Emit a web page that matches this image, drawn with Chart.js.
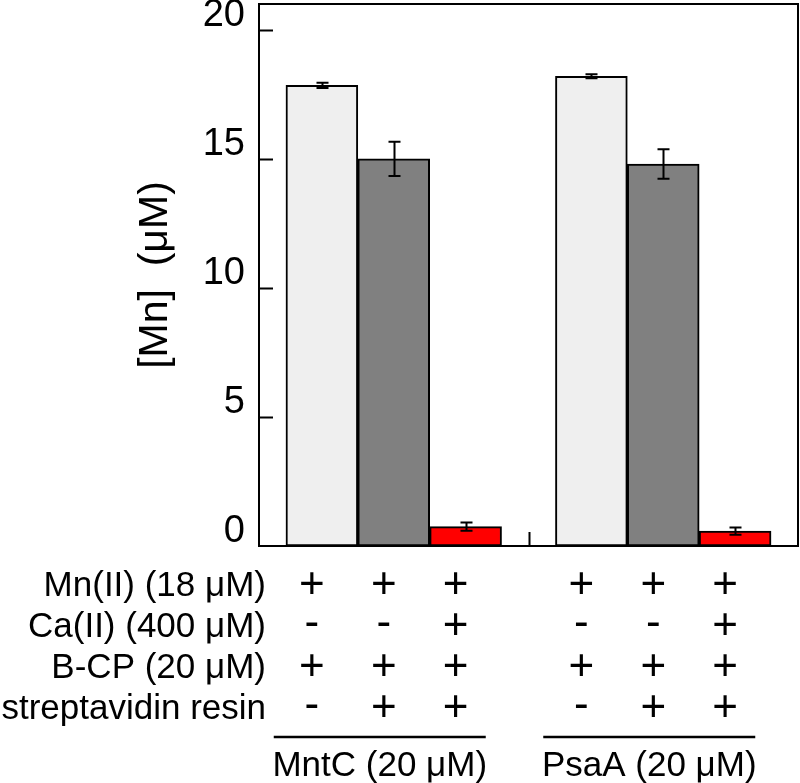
<!DOCTYPE html>
<html>
<head>
<meta charset="utf-8">
<script src="https://cdn.jsdelivr.net/npm/chart.js@4"></script>
<style>
  html, body { margin: 0; padding: 0; background: #fff; }
  #wrap { width: 800px; height: 783px; }
</style>
</head>
<body>
<div id="wrap"><canvas id="mnChart"></canvas></div>
<script>
// values
const groups = ['MntC (20 μM)', 'PsaA (20 μM)'];
const conditions = ['Mn(II) (18 μM)', 'Ca(II) (400 μM)', 'B-CP (20 μM)', 'streptavidin resin'];
const signs = [
    ['+', '+', '+'],
    ['-', '-', '+'],
    ['+', '+', '+'],
    ['-', '+', '+']
];
const mntcValues = [17.85, 15.0, 0.75];
const mntcErrors = [0.1, 0.66, 0.16];
const psaaValues = [18.2, 14.8, 0.58];
const psaaErrors = [0.08, 0.57, 0.14];
const yTicks = [0, 5, 10, 15, 20];

const barColors = ['#efefef', '#808080', '#ff0000'];
const FONT = '"Liberation Sans", Arial, sans-serif';

// three touching bars per group, a gap between the groups
const values = [mntcValues, psaaValues];
const errors = [mntcErrors, psaaErrors];
const points = [], colors = [], errs = [];
values.forEach((vals, g) => {
    vals.forEach((v, i) => {
        points.push({ x: 0.875 + g * 3.75 + i, y: v });
        colors.push(barColors[i]);
        errs.push(errors[g][i]);
    });
});

const extras = {
    id: 'extras',
    afterDraw(chart) {
        const { ctx, chartArea: a, scales: { x, y } } = chart;
        ctx.save();
        ctx.strokeStyle = '#000';
        ctx.fillStyle = '#000';
        ctx.lineWidth = 2;

        // frame
        ctx.strokeRect(a.left, a.top, a.right - a.left, a.bottom - a.top);

        // inward ticks
        ctx.beginPath();
        yTicks.forEach(t => {
            if (t === 0) return;
            const py = Math.round(y.getPixelForValue(t)) + 0.5;
            ctx.moveTo(a.left, py);
            ctx.lineTo(a.left + 14, py);
        });
        const divX = Math.round(x.getPixelForValue(3.75)) + 0.5;
        ctx.moveTo(divX, a.bottom);
        ctx.lineTo(divX, a.bottom - 14);
        ctx.stroke();

        // error bars
        ctx.beginPath();
        points.forEach((p, i) => {
            const px = Math.round(x.getPixelForValue(p.x)) + 0.5;
            const hi = y.getPixelForValue(p.y + errs[i]);
            const lo = y.getPixelForValue(p.y - errs[i]);
            ctx.moveTo(px, hi); ctx.lineTo(px, lo);
            ctx.moveTo(px - 6, hi); ctx.lineTo(px + 6, hi);
            ctx.moveTo(px - 6, lo); ctx.lineTo(px + 6, lo);
        });
        ctx.stroke();

        // condition table
        const rowY = r => a.bottom + 40 + r * 41;
        ctx.textBaseline = 'middle';
        ctx.textAlign = 'right';
        ctx.font = '35px ' + FONT;
        conditions.forEach((c, r) => ctx.fillText(c, 266, rowY(r)));

        ctx.textAlign = 'center';
        ctx.font = '44px ' + FONT;
        signs.forEach((row, r) => {
            groups.forEach((gname, g) => {
                row.forEach((s, i) => {
                    const px = x.getPixelForValue(0.875 + g * 3.75 + i) - 10;
                    ctx.fillText(s, px, rowY(r) + (s === '-' ? -3 : 0));
                });
            });
        });

        // group underline + label
        ctx.font = '35px ' + FONT;
        ctx.lineWidth = 2.5;
        groups.forEach((gname, g) => {
            const cx = x.getPixelForValue(1.875 + g * 3.75) - 14;
            ctx.beginPath();
            ctx.moveTo(cx - 106, a.bottom + 191);
            ctx.lineTo(cx + 106, a.bottom + 191);
            ctx.stroke();
            ctx.fillText(gname, cx, a.bottom + 220);
        });
        ctx.restore();
    }
};

const ctx = document.getElementById('mnChart').getContext('2d');
new Chart(ctx, {
    type: 'bar',
    data: {
        datasets: [{
            data: points,
            backgroundColor: colors,
            borderColor: '#000',
            borderWidth: 2,
            borderSkipped: false,
            barPercentage: 1,
            categoryPercentage: 1
        }]
    },
    options: {
        responsive: true,
        maintainAspectRatio: false,
        animation: false,
        layout: { padding: { top: 4, right: 2, bottom: 237, left: 0 } },
        plugins: {
            legend: { display: false },
            tooltip: { enabled: false }
        },
        scales: {
            x: {
                type: 'linear',
                display: false,
                offset: false,
                min: 0,
                max: 7.5,
                afterBuildTicks: s => { s.ticks = [{ value: 3.75 }]; }
            },
            y: {
                min: 0,
                max: 21,
                afterBuildTicks: s => { s.ticks = yTicks.map(v => ({ value: v })); },
                afterFit: s => {
                    s.width = 259;
                    s.paddingTop = 0;
                    s.paddingBottom = 0;
                },
                grid: { display: false, drawTicks: false },
                border: { display: false },
                ticks: {
                    color: '#000',
                    padding: 14,
                    labelOffset: -14,
                    font: { family: FONT, size: 38 }
                },
                title: {
                    display: true,
                    text: '[Mn]  (μM)',
                    color: '#000',
                    font: { family: FONT, size: 41 },
                    padding: { top: 131 }
                }
            }
        }
    },
    plugins: [extras]
});
</script>
</body>
</html>
